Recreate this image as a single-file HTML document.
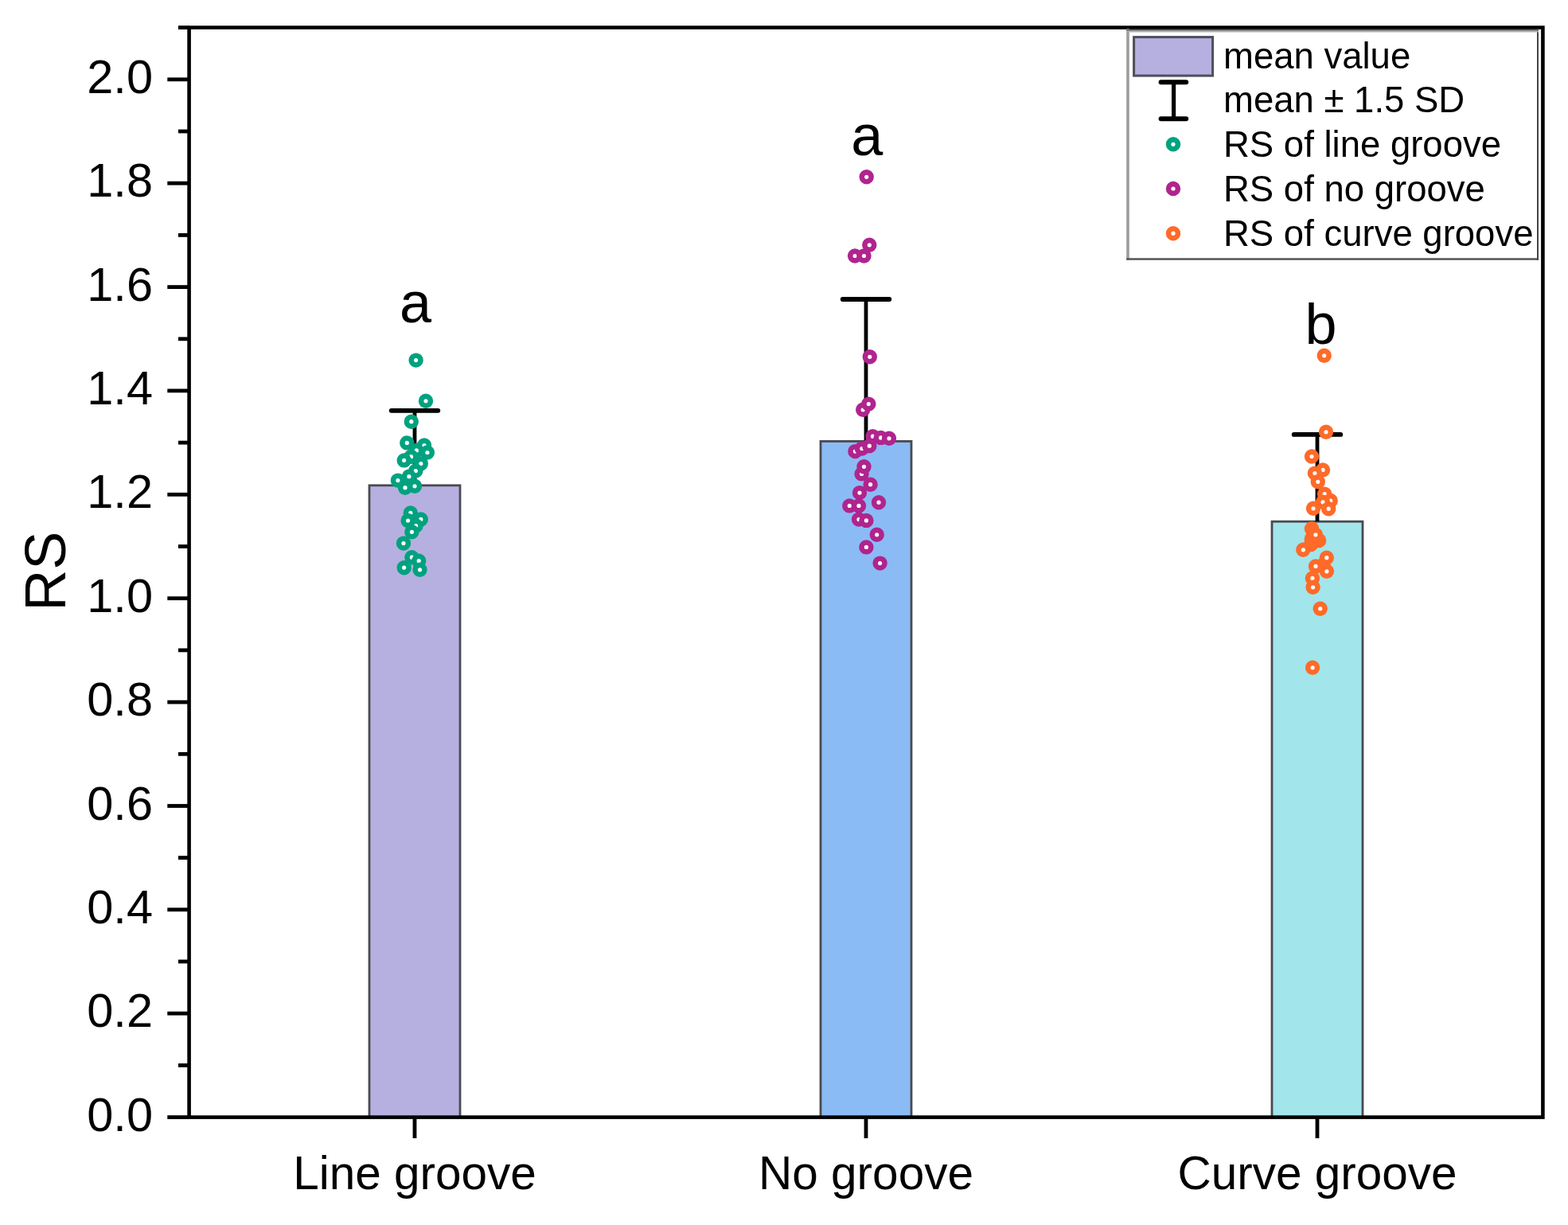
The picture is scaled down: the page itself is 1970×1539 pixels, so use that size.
<!DOCTYPE html>
<html><head><meta charset="utf-8"><title>RS chart</title>
<style>
html,body{margin:0;padding:0;background:#fff;}
body{width:1970px;height:1539px;overflow:hidden;}
svg{display:block;}
text{font-family:"Liberation Sans",Arial,Helvetica,sans-serif;fill:#000;}
</style></head><body>
<svg width="1970" height="1539" viewBox="0 0 1970 1539">
<rect x="0" y="0" width="1970" height="1539" fill="#fff"/>
<g stroke="#4a4a50" stroke-width="2.8">
<rect x="464.0" y="609.8" width="114.0" height="793.8" fill="#b6b0e0"/>
<rect x="1031.0" y="554.4" width="114.0" height="849.2" fill="#8bbbf4"/>
<rect x="1598.0" y="655.2" width="114.0" height="748.4" fill="#a2e5eb"/>
</g>
<g stroke="#000" fill="none">
<line x1="521.0" y1="609.8" x2="521.0" y2="515.8" stroke-width="4.8"/>
<line x1="491.7" y1="515.8" x2="550.3" y2="515.8" stroke-width="5.8" stroke-linecap="round"/>
<line x1="1088.0" y1="554.4" x2="1088.0" y2="376.0" stroke-width="4.8"/>
<line x1="1058.7" y1="376.0" x2="1117.3" y2="376.0" stroke-width="5.8" stroke-linecap="round"/>
<line x1="1655.0" y1="655.2" x2="1655.0" y2="545.9" stroke-width="4.8"/>
<line x1="1625.7" y1="545.9" x2="1684.3" y2="545.9" stroke-width="5.8" stroke-linecap="round"/>
</g>
<g fill="#fff" stroke="#00a27f" stroke-width="6.6">
<circle cx="522.6" cy="452.6" r="5.9"/>
<circle cx="535.0" cy="503.8" r="5.9"/>
<circle cx="516.8" cy="529.7" r="5.9"/>
<circle cx="511.3" cy="556.4" r="5.9"/>
<circle cx="533.0" cy="559.5" r="5.9"/>
<circle cx="523.3" cy="565.9" r="5.9"/>
<circle cx="536.9" cy="568.5" r="5.9"/>
<circle cx="516.5" cy="573.7" r="5.9"/>
<circle cx="507.7" cy="578.4" r="5.9"/>
<circle cx="528.8" cy="582.5" r="5.9"/>
<circle cx="522.3" cy="591.6" r="5.9"/>
<circle cx="513.9" cy="598.7" r="5.9"/>
<circle cx="499.9" cy="603.6" r="5.9"/>
<circle cx="521.0" cy="610.8" r="5.9"/>
<circle cx="509.0" cy="612.7" r="5.9"/>
<circle cx="515.8" cy="644.4" r="5.9"/>
<circle cx="528.8" cy="652.4" r="5.9"/>
<circle cx="512.6" cy="654.0" r="5.9"/>
<circle cx="522.6" cy="660.5" r="5.9"/>
<circle cx="517.4" cy="668.3" r="5.9"/>
<circle cx="507.0" cy="682.6" r="5.9"/>
<circle cx="517.4" cy="700.2" r="5.9"/>
<circle cx="526.2" cy="704.7" r="5.9"/>
<circle cx="507.7" cy="713.2" r="5.9"/>
<circle cx="527.5" cy="715.8" r="5.9"/>
</g>
<g fill="#fff" stroke="#b0248e" stroke-width="6.6">
<circle cx="1088.7" cy="222.3" r="5.9"/>
<circle cx="1092.3" cy="307.8" r="5.9"/>
<circle cx="1074.1" cy="321.5" r="5.9"/>
<circle cx="1085.5" cy="321.5" r="5.9"/>
<circle cx="1092.8" cy="448.3" r="5.9"/>
<circle cx="1084.2" cy="514.8" r="5.9"/>
<circle cx="1091.3" cy="507.6" r="5.9"/>
<circle cx="1096.5" cy="548.2" r="5.9"/>
<circle cx="1106.6" cy="549.9" r="5.9"/>
<circle cx="1117.0" cy="550.8" r="5.9"/>
<circle cx="1074.4" cy="567.1" r="5.9"/>
<circle cx="1082.9" cy="563.5" r="5.9"/>
<circle cx="1092.3" cy="560.2" r="5.9"/>
<circle cx="1082.6" cy="595.4" r="5.9"/>
<circle cx="1085.5" cy="586.3" r="5.9"/>
<circle cx="1093.6" cy="608.7" r="5.9"/>
<circle cx="1080.0" cy="619.1" r="5.9"/>
<circle cx="1104.0" cy="631.2" r="5.9"/>
<circle cx="1067.3" cy="635.4" r="5.9"/>
<circle cx="1079.0" cy="635.4" r="5.9"/>
<circle cx="1079.0" cy="652.6" r="5.9"/>
<circle cx="1088.4" cy="653.9" r="5.9"/>
<circle cx="1101.7" cy="671.8" r="5.9"/>
<circle cx="1088.4" cy="687.4" r="5.9"/>
<circle cx="1105.6" cy="707.6" r="5.9"/>
</g>
<g fill="#fff" stroke="#ff6a28" stroke-width="6.6">
<circle cx="1648.0" cy="664.2" r="9.2" fill="#ff6a28" stroke="none"/>
<circle cx="1647.8" cy="677.0" r="9.2" fill="#ff6a28" stroke="none"/>
<circle cx="1647.0" cy="684.0" r="9.2" fill="#ff6a28" stroke="none"/>
<circle cx="1657.2" cy="679.0" r="9.2" fill="#ff6a28" stroke="none"/>
<circle cx="1662.6" cy="709.5" r="9.2" fill="#ff6a28" stroke="none"/>
<circle cx="1663.7" cy="446.8" r="5.9"/>
<circle cx="1666.0" cy="542.8" r="5.9"/>
<circle cx="1648.0" cy="573.5" r="5.9"/>
<circle cx="1662.0" cy="590.4" r="5.9"/>
<circle cx="1651.9" cy="594.6" r="5.9"/>
<circle cx="1655.8" cy="605.3" r="5.9"/>
<circle cx="1664.1" cy="620.6" r="5.9"/>
<circle cx="1671.7" cy="629.0" r="5.9"/>
<circle cx="1662.0" cy="630.8" r="5.9"/>
<circle cx="1650.0" cy="638.8" r="5.9"/>
<circle cx="1669.2" cy="639.2" r="5.9"/>
<circle cx="1652.9" cy="671.8" r="5.9"/>
<circle cx="1637.3" cy="690.8" r="5.9"/>
<circle cx="1666.8" cy="700.7" r="5.9"/>
<circle cx="1653.0" cy="711.4" r="5.9"/>
<circle cx="1666.9" cy="717.8" r="5.9"/>
<circle cx="1648.9" cy="726.4" r="5.9"/>
<circle cx="1649.6" cy="737.8" r="5.9"/>
<circle cx="1658.7" cy="764.7" r="5.9"/>
<circle cx="1649.1" cy="838.8" r="5.9"/>
</g>
<rect x="237.6" y="34.6" width="1700.8" height="1369.0" fill="none" stroke="#000" stroke-width="4.6"/>
<g stroke="#000" stroke-width="4.8">
<line x1="210.3" y1="1403.6" x2="237.6" y2="1403.6"/>
<line x1="224.0" y1="1338.4" x2="237.6" y2="1338.4"/>
<line x1="210.3" y1="1273.2" x2="237.6" y2="1273.2"/>
<line x1="224.0" y1="1208.0" x2="237.6" y2="1208.0"/>
<line x1="210.3" y1="1142.8" x2="237.6" y2="1142.8"/>
<line x1="224.0" y1="1077.6" x2="237.6" y2="1077.6"/>
<line x1="210.3" y1="1012.5" x2="237.6" y2="1012.5"/>
<line x1="224.0" y1="947.3" x2="237.6" y2="947.3"/>
<line x1="210.3" y1="882.1" x2="237.6" y2="882.1"/>
<line x1="224.0" y1="816.9" x2="237.6" y2="816.9"/>
<line x1="210.3" y1="751.7" x2="237.6" y2="751.7"/>
<line x1="224.0" y1="686.5" x2="237.6" y2="686.5"/>
<line x1="210.3" y1="621.3" x2="237.6" y2="621.3"/>
<line x1="224.0" y1="556.1" x2="237.6" y2="556.1"/>
<line x1="210.3" y1="490.9" x2="237.6" y2="490.9"/>
<line x1="224.0" y1="425.8" x2="237.6" y2="425.8"/>
<line x1="210.3" y1="360.6" x2="237.6" y2="360.6"/>
<line x1="224.0" y1="295.4" x2="237.6" y2="295.4"/>
<line x1="210.3" y1="230.2" x2="237.6" y2="230.2"/>
<line x1="224.0" y1="165.0" x2="237.6" y2="165.0"/>
<line x1="210.3" y1="99.8" x2="237.6" y2="99.8"/>
<line x1="224.0" y1="34.6" x2="237.6" y2="34.6"/>
<line x1="521.0" y1="1403.6" x2="521.0" y2="1430.0"/>
<line x1="1088.0" y1="1403.6" x2="1088.0" y2="1430.0"/>
<line x1="1655.0" y1="1403.6" x2="1655.0" y2="1430.0"/>
</g>
<g font-size="59.5" text-anchor="end">
<text x="192" y="1420.6">0.0</text>
<text x="192" y="1290.2">0.2</text>
<text x="192" y="1159.8">0.4</text>
<text x="192" y="1029.5">0.6</text>
<text x="192" y="899.1">0.8</text>
<text x="192" y="768.7">1.0</text>
<text x="192" y="638.3">1.2</text>
<text x="192" y="507.9">1.4</text>
<text x="192" y="377.6">1.6</text>
<text x="192" y="247.2">1.8</text>
<text x="192" y="116.8">2.0</text>
</g>
<g font-size="58.5" text-anchor="middle">
<text x="521.0" y="1494.2">Line groove</text>
<text x="1088.0" y="1494.2">No groove</text>
<text x="1655.0" y="1494.2">Curve groove</text>
</g>
<text font-size="72" text-anchor="middle" transform="translate(81.7,717.7) rotate(-90)">RS</text>
<g font-size="72" text-anchor="middle">
<text x="522" y="404.8">a</text>
<text x="1089.3" y="194.6">a</text>
<text x="1659.5" y="432.2">b</text>
</g>
<rect x="1417" y="37" width="515" height="289" fill="#fff"/>
<g fill="none"><line x1="1417" y1="36" x2="1417" y2="326.8" stroke="#9c9c9c" stroke-width="3.6"/><line x1="1415.2" y1="325.5" x2="1933" y2="325.5" stroke="#555" stroke-width="2.4"/><line x1="1932" y1="36" x2="1932" y2="326.7" stroke="#444" stroke-width="2.0"/><line x1="1415.2" y1="37.7" x2="1933" y2="37.7" stroke="#5a5a5a" stroke-width="2.0"/><line x1="1415.2" y1="39.5" x2="1933" y2="39.5" stroke="#b0b0b0" stroke-width="1.8"/></g>
<rect x="1424.6" y="46.6" width="99" height="48.5" fill="#b6b0e0" stroke="#4e4e5a" stroke-width="3"/>
<g stroke="#000" fill="none"><line x1="1474.6" y1="103.2" x2="1474.6" y2="149.3" stroke-width="5.2"/><line x1="1458.6" y1="103.2" x2="1490.2" y2="103.2" stroke-width="6.0" stroke-linecap="round"/><line x1="1458.6" y1="149.3" x2="1490.2" y2="149.3" stroke-width="6.0" stroke-linecap="round"/></g>
<circle cx="1474.0" cy="181.3" r="5.9" fill="#fff" stroke="#00a27f" stroke-width="6.6"/>
<circle cx="1474.0" cy="237.0" r="5.9" fill="#fff" stroke="#b0248e" stroke-width="6.6"/>
<circle cx="1474.0" cy="293.2" r="5.9" fill="#fff" stroke="#ff6a28" stroke-width="6.6"/>
<g font-size="45.5">
<text x="1537" y="85.6">mean value</text>
<text x="1537" y="141.4">mean ± 1.5 SD</text>
<text x="1537" y="197.2">RS of line groove</text>
<text x="1537" y="253.0">RS of no groove</text>
<text x="1537" y="308.8">RS of curve groove</text>
</g>
</svg>
</body></html>
